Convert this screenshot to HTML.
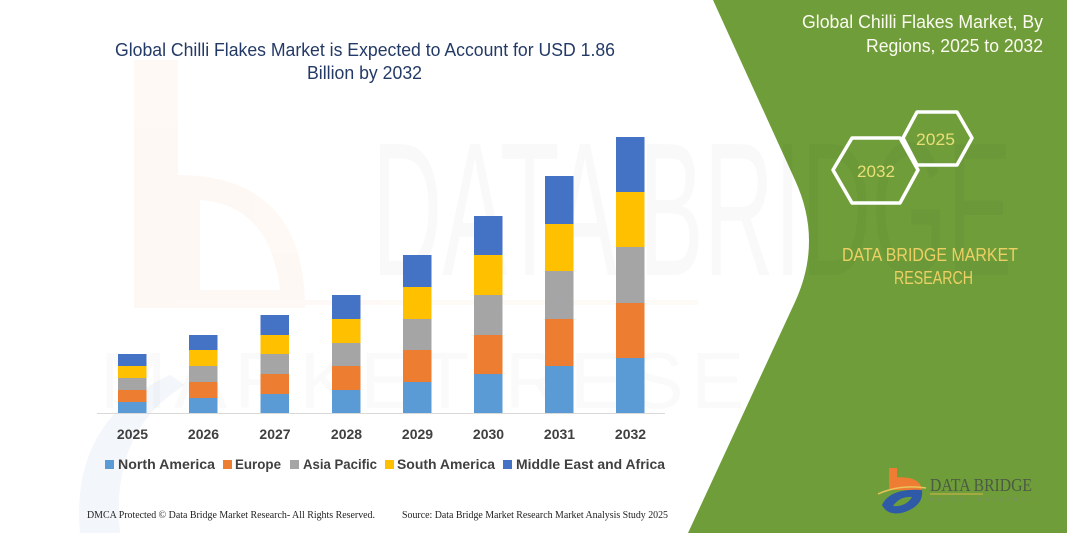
<!DOCTYPE html>
<html>
<head>
<meta charset="utf-8">
<style>
  html,body{margin:0;padding:0;background:#fff;}
  svg{display:block;}
</style>
</head>
<body>
<svg width="1067" height="533" viewBox="0 0 1067 533" xmlns="http://www.w3.org/2000/svg">
  <defs>
    <clipPath id="gclip"><path d="M713,0 L1067,0 L1067,533 L688,533 L795,302 Q823,241 795,180 Z"/></clipPath>
  </defs>
  <rect x="0" y="0" width="1067" height="533" fill="#ffffff"/>

  <!-- faint watermark: orange b -->
  <g opacity="0.45">
    <rect x="134" y="60" width="44" height="248" fill="#fdf1e9"/>
    <path d="M178,175 Q300,175 305,300 L305,308 L178,308 Z M200,200 L200,290 L280,290 Q270,205 200,200 Z" fill="#fdf1e9" fill-rule="evenodd"/>
    <rect x="178" y="300" width="520" height="5" fill="#fdf3ec"/>
  </g>
  <!-- faint blue swoosh -->
  <path d="M80,533 Q70,420 170,375 L185,385 Q110,430 120,533 Z" fill="#eef2f8" opacity="0.7"/>

  <!-- faint big watermark text -->
  <text x="372" y="275" font-family="Liberation Sans, sans-serif" font-size="190" fill="#000" opacity="0.02" textLength="640" lengthAdjust="spacingAndGlyphs">DATA BRIDGE</text>
  <text x="100" y="408" font-family="Liberation Sans, sans-serif" font-size="80" fill="#000" opacity="0.015" textLength="900" lengthAdjust="spacing">MARKET RESEARCH</text>

  <!-- green panel -->
  <path d="M713,0 L1067,0 L1067,533 L688,533 L795,302 Q823,241 795,180 Z" fill="#6f9d3a"/>
  <text x="372" y="275" font-family="Liberation Sans, sans-serif" font-size="190" fill="#000" opacity="0.025" textLength="640" lengthAdjust="spacingAndGlyphs" clip-path="url(#gclip)">DATA BRIDGE</text>

  <!-- Title -->
  <text x="115" y="56" font-family="Liberation Sans, sans-serif" font-size="18" fill="#243a66" textLength="500" lengthAdjust="spacingAndGlyphs">Global Chilli Flakes Market is Expected to Account for USD 1.86</text>
  <text x="307" y="79" font-family="Liberation Sans, sans-serif" font-size="18" fill="#243a66" textLength="115" lengthAdjust="spacingAndGlyphs">Billion by 2032</text>

  <!-- axis line -->
  <line x1="97" y1="413.5" x2="665" y2="413.5" stroke="#d9d9d9" stroke-width="1"/>

  <!-- Bars -->
  <g>
    <rect x="118" y="402" width="28.5" height="11" fill="#5b9bd5"/>
    <rect x="118" y="390" width="28.5" height="12" fill="#ed7d31"/>
    <rect x="118" y="378" width="28.5" height="12" fill="#a5a5a5"/>
    <rect x="118" y="366" width="28.5" height="12" fill="#ffc000"/>
    <rect x="118" y="354" width="28.5" height="12" fill="#4472c4"/>

    <rect x="189" y="398" width="28.5" height="15" fill="#5b9bd5"/>
    <rect x="189" y="382" width="28.5" height="16" fill="#ed7d31"/>
    <rect x="189" y="366" width="28.5" height="16" fill="#a5a5a5"/>
    <rect x="189" y="350" width="28.5" height="16" fill="#ffc000"/>
    <rect x="189" y="335" width="28.5" height="15" fill="#4472c4"/>

    <rect x="260.5" y="394" width="28.5" height="19" fill="#5b9bd5"/>
    <rect x="260.5" y="374" width="28.5" height="20" fill="#ed7d31"/>
    <rect x="260.5" y="354" width="28.5" height="20" fill="#a5a5a5"/>
    <rect x="260.5" y="335" width="28.5" height="19" fill="#ffc000"/>
    <rect x="260.5" y="315" width="28.5" height="20" fill="#4472c4"/>

    <rect x="332" y="390" width="28.5" height="23" fill="#5b9bd5"/>
    <rect x="332" y="366" width="28.5" height="24" fill="#ed7d31"/>
    <rect x="332" y="343" width="28.5" height="23" fill="#a5a5a5"/>
    <rect x="332" y="319" width="28.5" height="24" fill="#ffc000"/>
    <rect x="332" y="295" width="28.5" height="24" fill="#4472c4"/>

    <rect x="403" y="382" width="28.5" height="31" fill="#5b9bd5"/>
    <rect x="403" y="350" width="28.5" height="32" fill="#ed7d31"/>
    <rect x="403" y="319" width="28.5" height="31" fill="#a5a5a5"/>
    <rect x="403" y="287" width="28.5" height="32" fill="#ffc000"/>
    <rect x="403" y="255" width="28.5" height="32" fill="#4472c4"/>

    <rect x="474" y="374" width="28.5" height="39" fill="#5b9bd5"/>
    <rect x="474" y="335" width="28.5" height="39" fill="#ed7d31"/>
    <rect x="474" y="295" width="28.5" height="40" fill="#a5a5a5"/>
    <rect x="474" y="255" width="28.5" height="40" fill="#ffc000"/>
    <rect x="474" y="216" width="28.5" height="39" fill="#4472c4"/>

    <rect x="545" y="366" width="28.5" height="47" fill="#5b9bd5"/>
    <rect x="545" y="319" width="28.5" height="47" fill="#ed7d31"/>
    <rect x="545" y="271" width="28.5" height="48" fill="#a5a5a5"/>
    <rect x="545" y="224" width="28.5" height="47" fill="#ffc000"/>
    <rect x="545" y="176" width="28.5" height="48" fill="#4472c4"/>

    <rect x="616" y="358" width="28.5" height="55" fill="#5b9bd5"/>
    <rect x="616" y="303" width="28.5" height="55" fill="#ed7d31"/>
    <rect x="616" y="247" width="28.5" height="56" fill="#a5a5a5"/>
    <rect x="616" y="192" width="28.5" height="55" fill="#ffc000"/>
    <rect x="616" y="137" width="28.5" height="55" fill="#4472c4"/>
  </g>

  <!-- Year labels -->
  <g font-family="Liberation Sans, sans-serif" font-size="14" font-weight="bold" fill="#404040" text-anchor="middle">
    <text x="132.5" y="439">2025</text>
    <text x="203.5" y="439">2026</text>
    <text x="275" y="439">2027</text>
    <text x="346.5" y="439">2028</text>
    <text x="417.5" y="439">2029</text>
    <text x="488.5" y="439">2030</text>
    <text x="559.5" y="439">2031</text>
    <text x="630.5" y="439">2032</text>
  </g>

  <!-- Legend -->
  <g font-family="Liberation Sans, sans-serif" font-size="14" font-weight="bold" fill="#404040">
    <rect x="105" y="460" width="9" height="9" fill="#5b9bd5"/>
    <text x="118" y="469" textLength="97" lengthAdjust="spacingAndGlyphs">North America</text>
    <rect x="223" y="460" width="9" height="9" fill="#ed7d31"/>
    <text x="235" y="469" textLength="46" lengthAdjust="spacingAndGlyphs">Europe</text>
    <rect x="290" y="460" width="9" height="9" fill="#a5a5a5"/>
    <text x="303" y="469" textLength="74" lengthAdjust="spacingAndGlyphs">Asia Pacific</text>
    <rect x="385" y="460" width="9" height="9" fill="#ffc000"/>
    <text x="397" y="469" textLength="98" lengthAdjust="spacingAndGlyphs">South America</text>
    <rect x="503" y="460" width="9" height="9" fill="#4472c4"/>
    <text x="516" y="469" textLength="149" lengthAdjust="spacingAndGlyphs">Middle East and Africa</text>
  </g>

  <!-- Footer -->
  <g font-family="Liberation Serif, serif" font-size="10" fill="#222">
    <text x="87" y="518" textLength="288" lengthAdjust="spacingAndGlyphs">DMCA Protected © Data Bridge Market Research-  All Rights Reserved.</text>
    <text x="402" y="518" textLength="266" lengthAdjust="spacingAndGlyphs">Source: Data Bridge Market Research  Market Analysis Study 2025</text>
  </g>

  <!-- Right panel text -->
  <g font-family="Liberation Sans, sans-serif" font-size="18" fill="#fbfbf0">
    <text x="802" y="28" textLength="241" lengthAdjust="spacingAndGlyphs">Global Chilli Flakes Market, By</text>
    <text x="866" y="52" textLength="177" lengthAdjust="spacingAndGlyphs">Regions, 2025 to 2032</text>
  </g>

  <!-- Hexagons -->
  <g fill="none" stroke="#ffffff" stroke-width="3.5" stroke-linejoin="round">
    <path d="M833,170 L852,138 L900,138 L918,170 L900,203 L852,203 Z"/>
    <path d="M903,138 L917,112 L957,112 L972,138 L957,165 L917,165 Z"/>
  </g>
  <g font-family="Liberation Sans, sans-serif" font-size="17" fill="#e9df76">
    <text x="857" y="177" textLength="38" lengthAdjust="spacingAndGlyphs">2032</text>
    <text x="916" y="145" textLength="39" lengthAdjust="spacingAndGlyphs">2025</text>
  </g>

  <g font-family="Liberation Sans, sans-serif" font-size="18" fill="#ecd064">
    <text x="842" y="261" textLength="176" lengthAdjust="spacingAndGlyphs">DATA BRIDGE MARKET</text>
    <text x="894" y="284" textLength="79" lengthAdjust="spacingAndGlyphs">RESEARCH</text>
  </g>

  <!-- Logo -->
  <g>
    <rect x="889" y="468" width="8" height="22" fill="#ee7d33"/>
    <path d="M889,478 Q920,474 922,490 L897,490 L897,484 Q912,483 913,488 L889,488 Z" fill="#ee7d33"/>
    <path d="M882,505 Q890,488 922,490 Q924,505 905,512 Q888,517 882,505 Z" fill="#2f5aa8"/>
    <path d="M893,506 Q900,496 912,497 Q906,507 893,506 Z" fill="#6f9d3a"/>
    <path d="M878,494 Q900,484 926,488" fill="none" stroke="#e8c45a" stroke-width="1.5"/>
    <text x="930" y="491" font-family="Liberation Serif, serif" font-size="18" fill="#4b5a45" textLength="102" lengthAdjust="spacingAndGlyphs">DATA BRIDGE</text>
    <line x1="930" y1="494" x2="983" y2="494" stroke="#d9b84a" stroke-width="1"/>
    <text x="930" y="501" font-family="Liberation Sans, sans-serif" font-size="5" fill="#7d8f6a" textLength="102" lengthAdjust="spacing">MARKET    RESEARCH</text>
  </g>
</svg>
</body>
</html>
